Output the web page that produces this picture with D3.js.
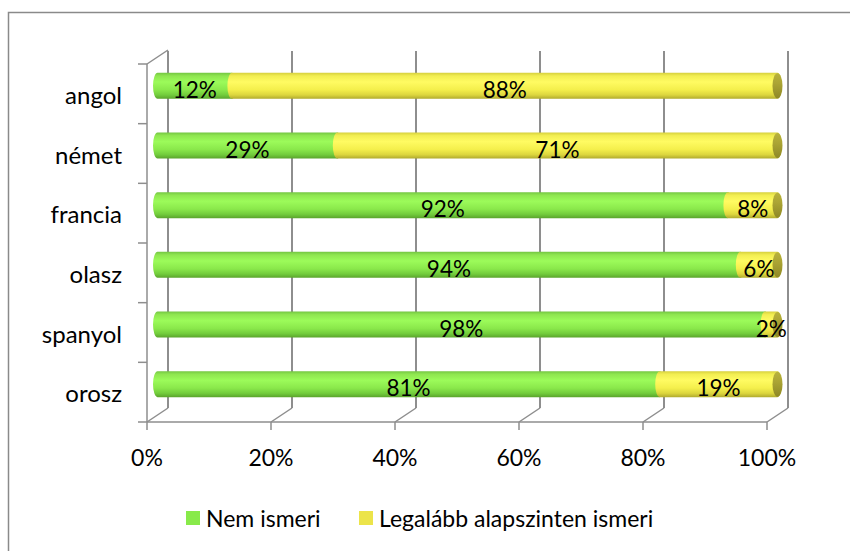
<!DOCTYPE html>
<html><head><meta charset="utf-8">
<script src="https://cdn.jsdelivr.net/npm/d3@7"></script>
<style>body{margin:0;background:#fff}svg{display:block}text{font-family:Lato,"Open Sans",sans-serif;fill:#000}</style>
</head><body>
<script>
const categories = ["angol","német","francia","olasz","spanyol","orosz"];
const seriesNames = ["Nem ismeri","Legalább alapszinten ismeri"];
const nemIsmeri = [12,29,92,94,98,81];
const legalabb = [88,71,8,6,2,19];
const xTicks = [0,20,40,60,80,100];

const W=850,H=551;
const svg=d3.select("body").append("svg").attr("width",W).attr("height",H);
const defs=svg.append("defs");
function grad(id,stops){const g=defs.append("linearGradient").attr("id",id).attr("x1",0).attr("y1",0).attr("x2",0).attr("y2",1);
 stops.forEach(s=>g.append("stop").attr("offset",s[0]).attr("stop-color",s[1]));}
grad("gG",[[0,"#74c642"],[0.12,"#8fe650"],[0.35,"#9cfb5a"],[0.65,"#8ae84b"],[0.85,"#72cc3c"],[1,"#5aa42c"]]);
grad("gY",[[0,"#d6d03e"],[0.12,"#f2ee52"],[0.35,"#fffb62"],[0.65,"#f4ef4c"],[0.85,"#dcd63e"],[1,"#b0aa2e"]]);
grad("gCap",[[0,"#b8b23c"],[0.4,"#aba434"],[1,"#8e8826"]]);

svg.append("rect").attr("x",8.5).attr("y",12.5).attr("width",900).attr("height",700)
  .attr("fill","none").attr("stroke","#8a8a8a").attr("stroke-width",1.5);

const x=d3.scaleLinear().domain([0,100]).range([147,767]);
const y=d3.scaleBand().domain(categories).range([64,422]);
const dx=21, dy=-14;
const grid="#8e8e8e";
const g=svg.append("g");
xTicks.forEach(t=>{
  g.append("line").attr("x1",x(t)+dx).attr("x2",x(t)+dx).attr("y1",64+dy+1).attr("y2",422+dy).attr("stroke",grid).attr("stroke-width",2);
  g.append("line").attr("x1",x(t)).attr("x2",x(t)+dx).attr("y1",422).attr("y2",422+dy).attr("stroke",grid).attr("stroke-width",1.5);
  g.append("line").attr("x1",x(t)).attr("x2",x(t)).attr("y1",422).attr("y2",430).attr("stroke",grid).attr("stroke-width",1.5);
});
g.append("line").attr("x1",x(0)).attr("x2",x(100)).attr("y1",422).attr("y2",422).attr("stroke",grid).attr("stroke-width",1.5);
g.append("line").attr("x1",x(0)).attr("x2",x(0)).attr("y1",64).attr("y2",422).attr("stroke",grid).attr("stroke-width",1.5);
g.append("line").attr("x1",x(0)).attr("x2",x(0)+dx).attr("y1",64).attr("y2",64+dy).attr("stroke",grid).attr("stroke-width",1.5);
const bounds=categories.map(c=>y(c)).concat([422]);
bounds.forEach(b=>g.append("line").attr("x1",x(0)-9).attr("x2",x(0)).attr("y1",b).attr("y2",b).attr("stroke",grid).attr("stroke-width",1.5));

xTicks.forEach(t=>svg.append("text").attr("x",x(t)).attr("y",466).attr("text-anchor","middle").attr("font-size",23).text(t+"%"));
categories.forEach(c=>svg.append("text").attr("x",122).attr("y",y(c)+y.bandwidth()/2+10).attr("text-anchor","end").attr("font-size",24).text(c));

const bh=26, rx=4.5;
const xm=v=>x(v)+dx/2;
function seg(x0,x1,cy){
  const t=cy-bh/2,b=cy+bh/2;
  return `M${x0},${t} L${x1},${t} A${rx},${bh/2} 0 0 1 ${x1},${b} L${x0},${b} A${rx},${bh/2} 0 0 1 ${x0},${t} Z`;
}
categories.forEach((c,i)=>{
  const cy=y(c)+y.bandwidth()/2+dy/2-1;
  const a=nemIsmeri[i], bv=legalabb[i];
  svg.append("path").attr("d",seg(xm(0),xm(a),cy)).attr("fill","url(#gG)");
  svg.append("path").attr("d",seg(xm(a),xm(a+bv),cy)).attr("fill","url(#gY)");
  svg.append("ellipse").attr("cx",xm(a+bv)).attr("cy",cy).attr("rx",rx+0.5).attr("ry",bh/2-0.5).attr("fill","url(#gCap)");
  svg.append("text").attr("x",xm(a/2)).attr("y",cy+12).attr("text-anchor","middle").attr("font-size",22.5).text(a+"%");
  svg.append("text").attr("x",xm(a+bv/2)).attr("y",cy+12).attr("text-anchor","middle").attr("font-size",22.5).text(bv+"%");
});

const leg=[{n:seriesNames[0],c:"#88ea4a",x:186},{n:seriesNames[1],c:"#ece44a",x:359}];
leg.forEach(l=>{
  svg.append("rect").attr("x",l.x).attr("y",511).attr("width",14).attr("height",14).attr("fill",l.c);
  svg.append("text").attr("x",l.x+20).attr("y",527).attr("font-size",23).text(l.n);
});
</script>
</body></html>
